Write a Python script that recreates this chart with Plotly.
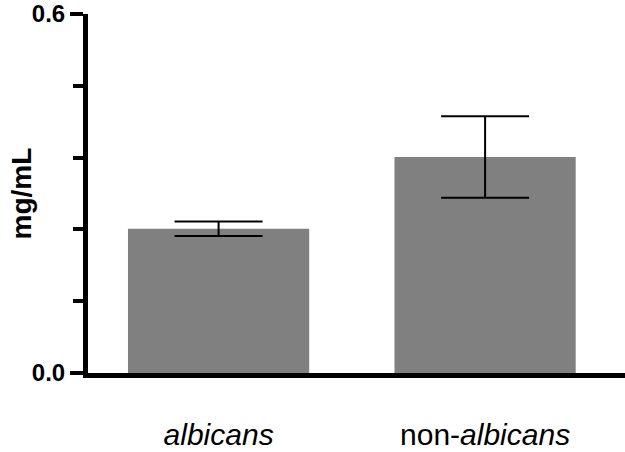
import plotly.graph_objects as go

categories = ["albicans", "non-albicans"]
category_labels = ["<i>albicans</i>", "non-<i>albicans</i>"]
means = [0.241, 0.361]
errors = [0.012, 0.068]

y_tickvals = [0.0, 0.6]
y_ticktext = ["<b>0.0</b>", "<b>0.6</b>"]

fig = go.Figure()
fig.add_bar(
    x=categories,
    y=means,
    width=0.68,
    marker=dict(color="#808080", line=dict(width=0)),
    error_y=dict(type="data", array=errors, color="black", thickness=2, width=44),
)

fig.update_layout(
    width=625,
    height=452,
    margin=dict(l=88, r=0, t=14, b=79, autoexpand=False),
    plot_bgcolor="white",
    paper_bgcolor="white",
    showlegend=False,
    font=dict(family="Liberation Sans, Arial, sans-serif", color="black"),
)

fig.update_xaxes(
    range=[-0.49, 1.525],
    tickvals=categories,
    ticktext=category_labels,
    ticks="",
    ticklabelstandoff=31,
    tickfont=dict(size=30),
    showline=True,
    linecolor="black",
    linewidth=5,
    showgrid=False,
    zeroline=False,
    automargin=False,
)

fig.update_yaxes(
    range=[0, 0.6],
    tickvals=y_tickvals,
    ticktext=y_ticktext,
    ticks="outside",
    ticklen=13,
    tickwidth=4,
    tickcolor="black",
    tickfont=dict(size=24, family="Liberation Sans, Arial, sans-serif"),
    minor=dict(dtick=0.12, tick0=0, ticks="outside", ticklen=10, tickwidth=4, tickcolor="black"),
    showline=True,
    linecolor="black",
    linewidth=5,
    showgrid=False,
    zeroline=False,
    automargin=False,
)

fig.add_annotation(
    text="<b>mg/mL</b>",
    xref="paper",
    yref="paper",
    x=-0.123,
    y=0.5,
    xanchor="center",
    yanchor="middle",
    textangle=-90,
    showarrow=False,
    font=dict(size=28, family="Liberation Sans, Arial, sans-serif", color="black"),
)

# drop the browser's default 8px body margin so the figure fills the window
fig.write_html(
    "out.html",
    config={"displayModeBar": False},
    post_script="document.body.style.margin = '0';",
)
